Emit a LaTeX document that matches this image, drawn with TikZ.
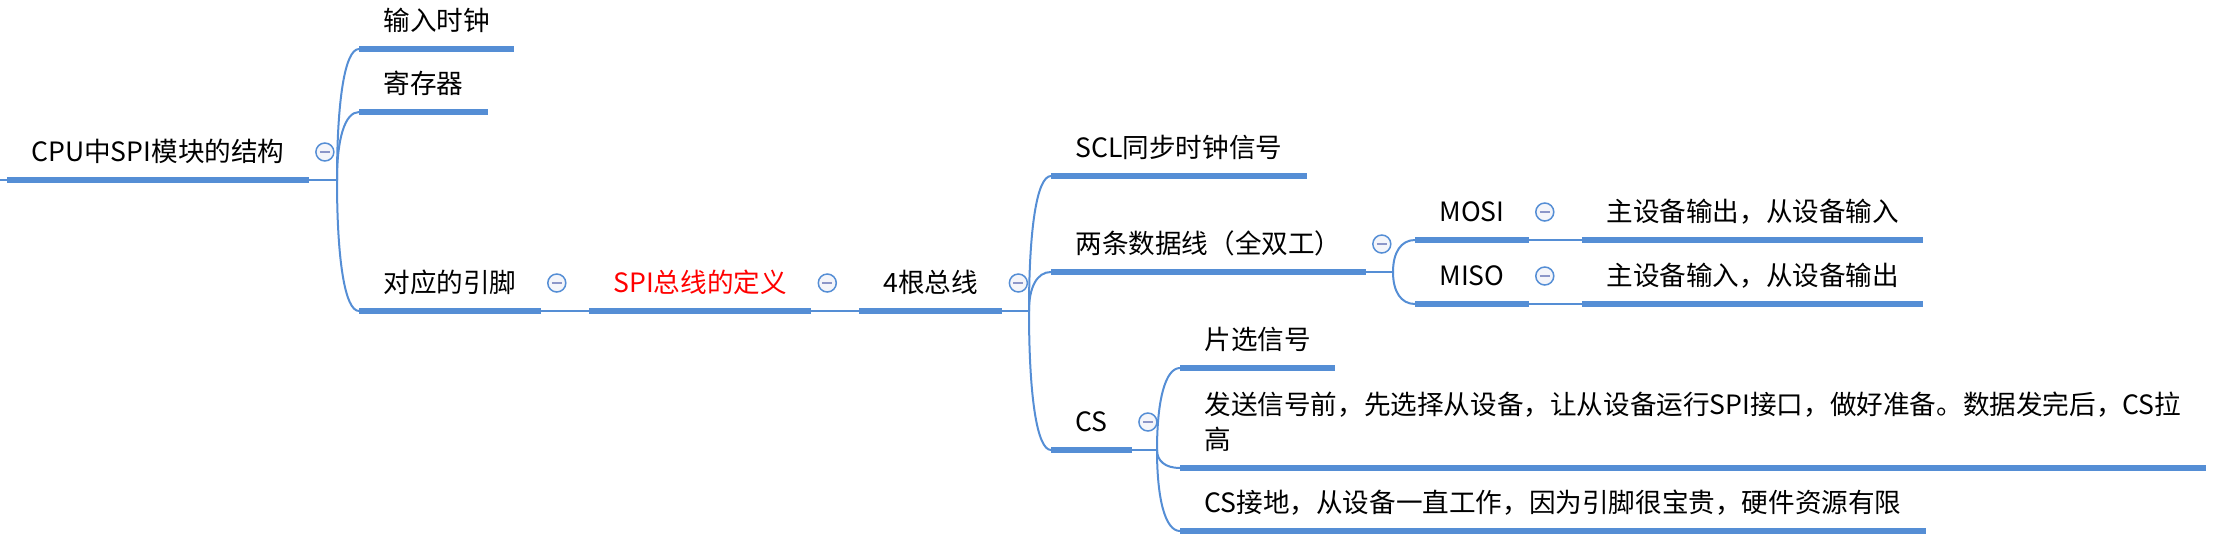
\documentclass[tikz,border=0pt]{standalone}
\usepackage{fontspec}
\usetikzlibrary{calc}
\newfontfamily\cjk{Noto Sans CJK SC}
\definecolor{mapblue}{RGB}{85,142,213}
\definecolor{foldgray}{RGB}{140,150,200}
\definecolor{foldfill}{RGB}{244,245,250}
\tikzset{
  uline/.style={draw=mapblue, line width=2.6pt},
  link/.style={draw=mapblue, line width=1pt},
  twig/.style={to path={.. controls ($(\tikztostart)!0.6!(\tikztostart |- \tikztotarget)$) and ($(\tikztostart |- \tikztotarget)!0.35!(\tikztotarget)$) .. (\tikztotarget)}},
  topic/.style={anchor=south west, inner xsep=12pt, inner ysep=6pt, text height=10pt, text depth=3pt,
    font=\cjk\fontsize{13.3}{17.5}\selectfont,
    append after command={(\tikzlastnode.south west) edge[uline] (\tikzlastnode.south east)}},
  fold/.style={circle, draw=mapblue, line width=0.75pt, fill=foldfill, minimum size=9pt, inner sep=0pt,
    path picture={\draw[foldgray, line width=1pt] ([xshift=-2.5pt]path picture bounding box.center) -- ([xshift=2.5pt]path picture bounding box.center);}}
}
\begin{document}
\begin{tikzpicture}[x=0.5pt, y=-0.5pt]
\useasboundingbox (0,0) rectangle (2238,558);
% root
\coordinate (edge) at (0,180);
\node[topic] (root) at (7,180) {CPU中SPI模块的结构};
\node[fold] (rootfold) at ([shift={(8pt,14pt)}]root.south east) {};
\coordinate (j0) at (337,180);
\node[topic] (clk) at (359,49) {输入时钟};
\node[topic] (reg) at (359,112) {寄存器};
\node[topic] (pin) at (359,311) {对应的引脚};
\node[fold] (pinfold) at ([shift={(8pt,14pt)}]pin.south east) {};
\node[topic, text=red] (def) at (589,311) {SPI总线的定义};
\node[fold] (deffold) at ([shift={(8pt,14pt)}]def.south east) {};
\node[topic] (four) at (859,311) {4根总线};
\node[fold] (fourfold) at ([shift={(8pt,14pt)}]four.south east) {};
\coordinate (j1) at (1029,311);
% bus lines
\node[topic] (scl) at (1051,176) {SCL同步时钟信号};
\node[topic] (data) at (1051,272) {两条数据线（全双工）};
\node[fold] (datafold) at ([shift={(8pt,14pt)}]data.south east) {};
\node[topic] (cs) at (1051,450) {CS};
\node[fold] (csfold) at ([shift={(8pt,14pt)}]cs.south east) {};
\coordinate (j2) at (1393,272);
\node[topic] (mosi) at (1415,240) {MOSI};
\node[fold] (mosifold) at ([shift={(8pt,14pt)}]mosi.south east) {};
\node[topic] (miso) at (1415,304) {MISO};
\node[fold] (misofold) at ([shift={(8pt,14pt)}]miso.south east) {};
\node[topic] (mosiout) at (1582,240) {主设备输出，从设备输入};
\node[topic] (misoin) at (1582,304) {主设备输入，从设备输出};
% chip select
\coordinate (j3) at (1157,450);
\node[topic] (sel) at (1180,368) {片选信号};
\node[topic] (send) at (1180,468) {\begin{tabular}[b]{@{}l@{}}发送信号前，先选择从设备，让从设备运行SPI接口，做好准备。数据发完后，CS拉\\高\end{tabular}};
\node[topic] (gnd) at (1180,531) {CS接地，从设备一直工作，因为引脚很宝贵，硬件资源有限};
% connectors
\path[link] (edge) -- (root.south west);
\path[link] (root.south east) -- (j0);
\path[link] (j0) to[twig] (clk.south west);
\path[link] (j0) to[twig] (reg.south west);
\path[link] (j0) to[twig] (pin.south west);
\path[link] (pin.south east) -- (def.south west);
\path[link] (def.south east) -- (four.south west);
\path[link] (four.south east) -- (j1);
\path[link] (j1) to[twig] (scl.south west);
\path[link] (j1) to[twig] (data.south west);
\path[link] (j1) to[twig] (cs.south west);
\path[link] (data.south east) -- (j2);
\path[link] (j2) to[twig] (mosi.south west);
\path[link] (j2) to[twig] (miso.south west);
\path[link] (mosi.south east) -- (mosiout.south west);
\path[link] (miso.south east) -- (misoin.south west);
\path[link] (cs.south east) -- (j3);
\path[link] (j3) to[twig] (sel.south west);
\path[link] (j3) to[twig] (send.south west);
\path[link] (j3) to[twig] (gnd.south west);
\end{tikzpicture}
\end{document}
